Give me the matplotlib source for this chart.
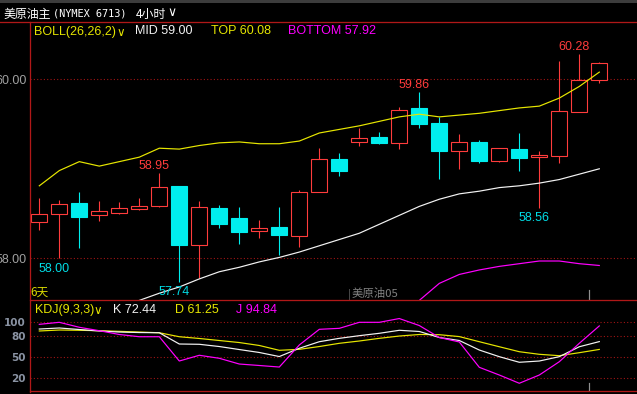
import matplotlib
matplotlib.use('Agg')
import matplotlib.pyplot as plt
from matplotlib.lines import Line2D
from matplotlib.patches import Rectangle
import numpy as np

W, H, DPI = 637, 394, 100
nan = float('nan')

# ---------------- data ----------------
opens  = [58.41, 58.50, 58.62, 58.48, 58.51, 58.55, 58.58, 58.81, 58.15, 58.56,
          58.45, 58.30, 58.35, 58.25, 58.74, 59.11, 59.30, 59.36, 59.29, 59.68,
          59.51, 59.20, 59.30, 59.09, 59.22, 59.13, 59.14, 59.64, 59.99]
highs  = [58.67, 58.65, 58.74, 58.64, 58.63, 58.67, 58.95, 58.81, 58.64, 58.60,
          58.57, 58.43, 58.57, 58.76, 59.23, 59.18, 59.46, 59.41, 59.69, 59.86,
          59.58, 59.39, 59.32, 59.23, 59.40, 59.20, 60.20, 60.28, 60.19]
lows   = [58.32, 58.00, 58.12, 58.42, 58.49, 58.54, 58.57, 57.74, 57.78, 58.34,
          58.16, 58.23, 58.04, 58.13, 58.74, 58.92, 59.25, 59.28, 59.22, 59.46,
          58.89, 59.00, 59.06, 59.08, 58.98, 58.56, 59.06, 59.64, 59.96]
closes = [58.49, 58.61, 58.46, 58.53, 58.56, 58.58, 58.80, 58.15, 58.57, 58.38,
          58.29, 58.34, 58.26, 58.74, 59.11, 58.97, 59.34, 59.29, 59.66, 59.50,
          59.20, 59.30, 59.09, 59.23, 59.12, 59.15, 59.65, 59.99, 60.18]

boll_top = [58.81, 58.98, 59.08, 59.03, 59.08, 59.13, 59.23, 59.22, 59.26, 59.29,
            59.30, 59.28, 59.28, 59.31, 59.40, 59.44, 59.48, 59.53, 59.58, 59.61,
            59.58, 59.60, 59.62, 59.65, 59.68, 59.70, 59.79, 59.92, 60.08]
boll_mid = [nan, nan, nan, nan, nan, 57.53, 57.61, 57.68, 57.77, 57.85,
            57.90, 57.96, 58.01, 58.07, 58.14, 58.21, 58.28, 58.38, 58.48, 58.58,
            58.66, 58.72, 58.75, 58.79, 58.81, 58.84, 58.88, 58.94, 59.00]
boll_bot = [nan] * 19 + [57.53, 57.72, 57.82, 57.87, 57.91, 57.94, 57.97, 57.97, 57.94, 57.92]

k_vals = [90.4, 91.9, 89.7, 87.6, 86.1, 85.4, 85.1, 69.0, 68.6, 65.4,
          61.1, 56.9, 51.1, 62.9, 72.3, 77.1, 80.9, 84.3, 88.6, 86.9,
          78.3, 74.0, 60.4, 50.9, 42.9, 44.7, 50.9, 65.1, 72.44]
d_vals = [87.6, 89.0, 88.6, 88.0, 87.1, 86.1, 85.1, 79.4, 76.9, 74.0,
          71.1, 66.9, 60.0, 61.4, 65.4, 70.0, 73.3, 77.1, 80.4, 82.6,
          82.3, 79.6, 72.3, 65.1, 58.0, 54.3, 52.3, 56.6, 61.25]
j_vals = [97.1, 100.0, 92.9, 88.0, 82.6, 79.4, 79.4, 44.7, 52.9, 48.6,
          40.4, 38.3, 36.1, 67.6, 90.0, 91.4, 100.0, 100.0, 105.4, 95.4,
          78.3, 71.9, 35.7, 24.7, 12.9, 24.7, 43.7, 70.0, 94.84]

price_ticks = [58.0, 60.0]
price_tick_labels = ['58.00', '60.00']
kdj_ticks = [100, 80, 50, 20]
kdj_tick_labels = ['100', '80', '50', '20']
high_marks = [6, 19, 27]
low_marks = [1, 7, 25]
contract_switch = 15.5
day_sep = 27.5

# ---------------- style ----------------
plt.rcParams['font.family'] = ['Liberation Sans', 'Noto Sans CJK SC', 'DejaVu Sans']
BG = 'black'
FRAME = '#b01818'
GRID = '#a01414'
RED = '#ff3c3c'
CYAN = '#00eeee'
YEL = '#e6e600'
MAG = '#ff00ff'
WHITE = '#f2f2f2'
PX = 72.0 / DPI  # one pixel in points

fig = plt.figure(figsize=(W / DPI, H / DPI), dpi=DPI, facecolor=BG)

def fx(x):
    return x / W

def fy(y):
    return 1 - y / H

L, R = 29.5, 637.0
x0 = 39.3
step = 20.0
xlim = ((L - x0) / step, (R - x0) / step)

# main axes
ax = fig.add_axes([fx(L), fy(299.5), (R - L) / W, (299.5 - 21) / H])
ax.set_facecolor(BG)
ax.set_xlim(*xlim)
ax.set_ylim(57.540, 60.651)
for s in ax.spines.values():
    s.set_visible(False)
ax.set_xticks([])
ax.set_yticks(price_ticks)
ax.set_yticklabels(price_tick_labels, color='#a0a0a0', fontsize=9)
ax.tick_params(axis='y', length=0, pad=2.5 * PX)
for v in price_ticks:
    ax.axhline(v, color=GRID, lw=0.8, ls=(0, (1, 2)), zorder=1)

idx = np.arange(len(opens))
o = np.array(opens); c = np.array(closes)
h = np.array(highs); l = np.array(lows)
up = c >= o
bhi = np.maximum(o, c); blo = np.minimum(o, c)
cols = np.where(up, RED, CYAN)
ax.vlines(idx, bhi, h, colors=cols, lw=PX * 1.1, zorder=3)
ax.vlines(idx, l, blo, colors=cols, lw=PX * 1.1, zorder=3)
ax.bar(idx[up], (bhi - blo)[up], bottom=blo[up], width=0.785,
       facecolor=BG, edgecolor=RED, linewidth=PX * 1.1, zorder=4)
ax.bar(idx[~up], (bhi - blo)[~up], bottom=blo[~up], width=0.785,
       facecolor=CYAN, edgecolor=CYAN, linewidth=PX * 1.1, zorder=4)

ax.plot(idx, boll_top, color=YEL, lw=PX * 1.2, zorder=5)
ax.plot(idx, boll_mid, color=WHITE, lw=PX * 1.2, zorder=5)
ax.plot(idx, boll_bot, color=MAG, lw=PX * 1.2, zorder=5)

for i in high_marks:
    ax.annotate(f'{highs[i]:.2f}', xy=(i, highs[i]), xytext=(-5, 3.8),
                textcoords='offset pixels', ha='center', va='baseline',
                color=RED, fontsize=9, zorder=6)
for i in low_marks:
    ax.annotate(f'{lows[i]:.2f}', xy=(i, lows[i]), xytext=(-5.5, -13.3),
                textcoords='offset pixels', ha='center', va='baseline',
                color='#00dde6', fontsize=9, zorder=6)

ax.axvline(contract_switch, ymin=0, ymax=11.5 / 278.5, color='#8a8a8a',
           lw=PX, ls=(0, (1, 1)), zorder=2)
ax.axvline(day_sep, ymin=0, ymax=9.5 / 278.5, color='#909090', lw=PX * 1.2, zorder=2)

# KDJ axes
ax2 = fig.add_axes([fx(L), fy(391), (R - L) / W, (391 - 299.5) / H])
ax2.set_facecolor(BG)
ax2.set_xlim(*xlim)
ax2.set_ylim(1.86, 132.6)
for s in ax2.spines.values():
    s.set_visible(False)
ax2.set_xticks([])
ax2.set_yticks(kdj_ticks)
ax2.set_yticklabels(kdj_tick_labels, color='#8a93a3', fontsize=7.5,
                    fontweight='bold', family='DejaVu Sans')
ax2.tick_params(axis='y', length=0, pad=3.5 * PX)
for v in kdj_ticks:
    ax2.axhline(v, color=GRID, lw=0.8, ls=(0, (1, 2)), zorder=1)
ax2.plot(idx, d_vals, color=YEL, lw=PX * 1.2, zorder=3)
ax2.plot(idx, k_vals, color=WHITE, lw=PX * 1.2, zorder=4)
ax2.plot(idx, j_vals, color=MAG, lw=PX * 1.2, zorder=5)
ax2.axvline(day_sep, ymin=0, ymax=8 / 91.5, color='#909090', lw=PX * 1.2, zorder=2)

# frame lines
fig.add_artist(Rectangle((0, fy(2.5)), 1, 2.5 / H, transform=fig.transFigure,
                         facecolor='#3c3c3c', edgecolor='none'))
fig.add_artist(Line2D([0, 1], [fy(21.5), fy(21.5)], color=FRAME, lw=PX * 1.3,
                      transform=fig.transFigure))
fig.add_artist(Line2D([fx(L), fx(L)], [fy(21.5), fy(391.5)], color=FRAME, lw=PX * 1.3,
                      transform=fig.transFigure))
fig.add_artist(Line2D([fx(L), 1], [fy(299.8), fy(299.8)], color=FRAME, lw=PX * 1.3,
                      transform=fig.transFigure))
fig.add_artist(Line2D([fx(L), 1], [fy(391.2), fy(391.2)], color=FRAME, lw=PX * 1.3,
                      transform=fig.transFigure))

# header
cjk = ['Noto Sans CJK SC', 'DejaVu Sans']
fig.text(fx(3), fy(18), '美原油主', color='white', fontsize=8.6, family=cjk, va='baseline')
fig.text(fx(53), fy(17), '(NYMEX 6713)', color='white', fontsize=7.4,
         family='DejaVu Sans Mono', va='baseline')
fig.text(fx(136), fy(18), '4小时', color='white', fontsize=8.6, family=cjk, va='baseline')
fig.text(fx(167.5), fy(16.5), '∨', color='white', fontsize=9, family='DejaVu Sans', va='baseline')

# BOLL legend
fig.text(fx(34), fy(34.5), 'BOLL(26,26,2)', color=YEL, fontsize=9, va='baseline')
fig.text(fx(116.5), fy(36), '∨', color=YEL, fontsize=8.5, family='DejaVu Sans', va='baseline')
fig.text(fx(135), fy(34.5), 'MID 59.00', color=WHITE, fontsize=9, va='baseline')
fig.text(fx(211), fy(34.5), 'TOP 60.08', color=YEL, fontsize=9, va='baseline')
fig.text(fx(288.5), fy(34.5), 'BOTTOM 57.92', color=MAG, fontsize=9, va='baseline')

# KDJ legend
fig.text(fx(34.5), fy(312.7), 'KDJ(9,3,3)', color=YEL, fontsize=9, va='baseline')
fig.text(fx(93.5), fy(314), '∨', color=YEL, fontsize=8.5, family='DejaVu Sans', va='baseline')
fig.text(fx(113), fy(312.7), 'K 72.44', color=WHITE, fontsize=9, va='baseline')
fig.text(fx(175), fy(312.7), 'D 61.25', color=YEL, fontsize=9, va='baseline')
fig.text(fx(236), fy(312.7), 'J 94.84', color=MAG, fontsize=9, va='baseline')

# misc labels
fig.text(fx(30.5), fy(295.5), '6天', color='#d8d800', fontsize=8.5, family=cjk, va='baseline')
fig.text(fx(351.5), fy(296.5), '美原油05', color='#808080', fontsize=8.2, family=cjk, va='baseline')

fig.savefig('out.png', dpi=DPI, facecolor=BG)
